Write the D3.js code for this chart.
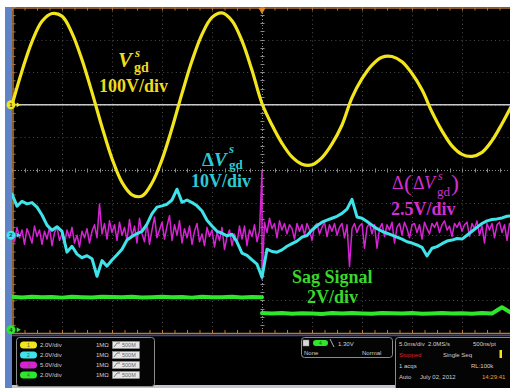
<!DOCTYPE html>
<html>
<head>
<meta charset="utf-8">
<script src="https://cdn.jsdelivr.net/npm/d3@7"></script>
<style>
  html, body { margin: 0; padding: 0; background: #fff; overflow: hidden; }
</style>
</head>
<body>
<svg id="scope" width="510" height="388"></svg>
<script>
// ---- acquisition data (time in ms, 5 ms/div, trigger at t = 0) ----

// Channel 1: grid-side voltage V^s_gd, volts, sampled every 1 ms from -25 ms
const ch1Start = -25, ch1Step = 1;
const ch1Volts = [
  0, 104, 194, 256, 280, 272, 220, 138, 38, -68,
  -165, -238, -276, -280, -240, -168, -72, 35, 135, 216,
  268, 282, 258, 196, 106, 4,
  -62, -118, -160, -182, -184, -162, -120, -62, 22, 80,
  122, 146, 148, 132, 96, 46, -22, -80, -126, -152,
  -158, -146, -110, -58, 0
];

// Channel 2: ΔV^s_gd, volts, sampled every 0.5 ms from -25 ms
const ch2Start = -25, ch2Step = 0.5;
const ch2Volts = [
  12.6, 8.9, 10.4, 9.6, 10.0, 8.6, 6.2, 3.1, 1.5, 2.6,
  1.2, -5.2, -3.4, -5.8, -6.9, -6.3, -7.2, -12.6, -7.8, -9.5,
  -7.6, -6.0, -4.3, -1.5, -0.4, 0.5, 1.2, 3.4, 6.6, 8.6,
  9.0, 9.5, 10.8, 14.1, 10.1, 10.8, 10.0, 9.0, 7.4, 4.6,
  2.8, 1.2, 0.6, -0.2, 0.3, -2.1, -5.5, -6.2, -7.6, -8.9,
  -12.9, -4.3, -5.0, -5.2, -4.5, -3.4, -2.6, -1.8, -0.6, -0.1,
  1.6, 2.9, 4.0, 4.6, 5.2, 5.8, 6.7, 8.0, 11.0, 5.6,
  5.2, 4.2, 3.1, 2.0, 1.2, 0.6, 0.0, -0.6, -1.2, -2.0,
  -2.4, -3.0, -3.7, -6.4, -4.0, -3.5, -2.6, -1.8, -1.5, -1.0,
  -1.2, 0.0, 1.2, 2.4, 3.6, 4.4, 4.8, 5.0, 5.3, 5.8,
  6.0
];

// Channel 3: Δ(ΔV^s_gd), volts, every 0.25 ms; before the sag, the step at t = 0, after the sag
const ch3Step = 0.25;
const ch3Before = [
  0.1, -0.5, 0.6, -0.2, 0.4, -0.7, 0.5, 0.0, -0.6, 0.7,
  -0.1, 0.4, -0.7, 0.3, -0.3, 0.6, -0.8, 0.2, 0.6, -0.4,
  0.1, -0.7, 0.4, -0.2, 0.6, -0.6, 0.0, -0.9, 0.3, -0.2,
  0.5, -0.6, 0.3, 0.8, -0.2, 2.4, 0.1, 0.9, -0.3, 1.1,
  0.2, 0.8, -0.4, 1.0, 0.0, 0.6, -0.4, 1.2, -0.1, 0.7,
  -0.6, 1.3, 0.1, -0.5, 0.9, -0.7, 0.4, 1.4, -0.2, 0.4,
  1.0, -0.3, 0.7, 1.5, -0.4, 0.8, 0.0, 1.1, -0.6, 0.5,
  -0.2, 0.7, -0.7, 0.3, 0.9, -0.5, 0.1, -0.8, 0.6, -0.1,
  0.4, -0.9, 0.2, -0.4, 0.6, -1.1, -0.1, 0.4, -0.8, 0.1,
  -0.6, 0.7, -0.3, 0.7, -0.8, 0.4, -0.1, 0.8, -0.5, 0.3
];
const ch3Step0 = [4.9, -3.4];
const ch3After = [
  1.0, 0.2, 1.3, 0.5, 0.9, -0.2, 1.1, 0.4, 0.9, 0.1,
  0.8, 0.5, -0.3, 0.9, 0.3, 0.8, 0.0, 0.9, 0.4, -0.4,
  0.7, 0.9, 0.1, 0.6, 1.0, -0.1, 0.8, 0.3, 0.9, 0.0,
  0.6, 0.9, -0.2, 0.8, -2.4, 0.5, 0.9, 0.2, 0.7, 0.9,
  -1.0, 0.6, 0.9, 0.1, 0.8, -1.0, 0.5, 0.9, -0.1, 0.8,
  0.4, 1.0, -0.6, 0.6, 0.9, 0.0, 1.0, 0.5, -0.2, 0.8,
  0.9, 0.2, 0.8, -0.3, 1.0, 0.5, 0.1, 0.9, 0.6, 1.0,
  0.2, 0.8, 1.1, 0.4, 0.7, -0.1, 0.9, 0.6, 1.0, 0.3,
  0.8, 1.0, -0.1, 0.9, 0.5, 1.1, 0.0, 0.7, -0.6, 0.9,
  0.4, 0.9, -0.2, 0.8, 1.0, 0.2, 0.8, -0.4, 0.9, 0.5
];

// Channel 4: sag command signal, volts, every 1 ms; before and after the sag
const ch4Step = 1;
const ch4Before = [
  2.02, 1.98, 2.03, 1.99, 2.01, 1.97, 2.02, 2.00, 1.98, 2.03,
  2.01, 1.99, 2.02, 1.98, 2.00, 2.03, 1.99, 2.01, 1.97, 2.02,
  2.00, 1.99, 2.03, 1.98, 2.01, 2.00
];
const ch4After = [
  1.02, 0.99, 1.03, 0.98, 1.01, 1.00, 0.97, 1.02, 0.99, 1.03,
  1.00, 0.98, 1.02, 1.01, 0.99, 1.03, 0.98, 1.00, 1.02, 0.99,
  1.01, 0.98, 1.02, 1.00, 1.38, 1.01
];

// Vertical settings: volts per division and offset (in divisions from screen centre)
const chScale  = { 1: 100, 2: 10, 3: 2.5, 4: 2 };
const chOffset = { 1: 2, 2: -2, 3: -2, 4: -4.9 };

// Trace annotations
const labelV1 = "100V/div", labelV2 = "10V/div", labelV3 = "2.5V/div";
const labelSag = "Sag Signal", labelV4 = "2V/div";

// Status panel text
const chanRows = [
  { ch: "1", scale: "2.0V/div", imp: "1MΩ", bw: "500M" },
  { ch: "2", scale: "2.0V/div", imp: "1MΩ", bw: "500M" },
  { ch: "3", scale: "5.0V/div", imp: "1MΩ", bw: "500M" },
  { ch: "4", scale: "2.0V/div", imp: "1MΩ", bw: "500M" }
];
const trigText = { src: "4", level: "1.30V", mode1: "None", mode2: "Normal" };
const acqText = {
  tdiv: "5.0ms/div", rate: "2.0MS/s", pt: "500ns/pt",
  state: "Stopped", seq: "Single Seq", acqs: "1 acqs", rl: "RL:100k",
  auto: "Auto", date: "July 02, 2012", time: "14:29:41"
};

// ---- drawing ----
const colors = { 1: "#f2e51c", 2: "#3fe3ea", 3: "#d624d4", 4: "#2ee62a" };
const labelColors = { 1: "#eedb1e", 2: "#2ecad4", 3: "#d12fd0", 4: "#3ad82c" };

const svg = d3.select("#scope");
const W = 510, H = 388;
const P = { left: 12, right: 512, top: 7, bottom: 333 };

const x = d3.scaleLinear().domain([-25, 25]).range([P.left, P.right]);
const yDiv = d3.scaleLinear().domain([-5, 5]).range([P.bottom, P.top]);
const yCh = ch => v => yDiv(v / chScale[ch] + chOffset[ch]);

// frame
svg.append("rect").attr("width", W).attr("height", H).attr("fill", "#fff");
svg.append("rect").attr("x", 5).attr("y", 7).attr("width", 7).attr("height", H - 7).attr("fill", "#5e83c6");
svg.append("rect").attr("x", 12).attr("y", 7).attr("width", W - 12).attr("height", 378).attr("fill", "#000");
svg.append("rect").attr("x", 12).attr("y", 385).attr("width", W - 12).attr("height", 3).attr("fill", "#c3c6cc");

const defs = svg.append("defs");
defs.append("clipPath").attr("id", "plotClip")
  .append("rect").attr("x", P.left).attr("y", P.top).attr("width", W - P.left).attr("height", P.bottom - P.top);

// faint graticule
const grid = svg.append("g").attr("stroke", "#4a4a4a").attr("stroke-width", 1).attr("stroke-dasharray", "1,3.2");
grid.selectAll("line.v").data(d3.range(-20, 21, 5).filter(d => d !== 0)).join("line")
  .attr("x1", d => x(d) + 0.5).attr("x2", d => x(d) + 0.5).attr("y1", P.top).attr("y2", P.bottom);
grid.selectAll("line.h").data(d3.range(-4, 5, 1).filter(d => d !== 0)).join("line")
  .attr("y1", d => Math.round(yDiv(d)) + 0.5).attr("y2", d => Math.round(yDiv(d)) + 0.5).attr("x1", P.left).attr("x2", W);

// centre axes (dotted, with minor ticks)
const minorT = d3.range(-25, 25.01, 1.25);
const minorD = d3.range(-5, 5.01, 0.25);
const cy = Math.round(yDiv(0)) + 0.5, cx = Math.round(x(0)) + 0.5;
const centre = svg.append("g").attr("stroke", "#8a8a8a").attr("stroke-width", 1);
centre.append("line").attr("x1", P.left).attr("x2", W).attr("y1", cy).attr("y2", cy).attr("stroke-dasharray", "1,2");
centre.append("line").attr("x1", cx).attr("x2", cx).attr("y1", P.top).attr("y2", P.bottom).attr("stroke-dasharray", "1,2");
centre.selectAll("line.tx").data(minorT).join("line")
  .attr("x1", d => Math.round(x(d)) + 0.5).attr("x2", d => Math.round(x(d)) + 0.5).attr("y1", cy - 2).attr("y2", cy + 2);
centre.selectAll("line.ty").data(minorD).join("line")
  .attr("y1", d => Math.round(yDiv(d)) + 0.5).attr("y2", d => Math.round(yDiv(d)) + 0.5).attr("x1", cx - 2).attr("x2", cx + 2);

// channel 1 reference line
svg.append("line").attr("x1", P.left).attr("x2", W)
  .attr("y1", yCh(1)(0)).attr("y2", yCh(1)(0))
  .attr("stroke", "#c9c9c9").attr("stroke-width", 1.6);

// edge axes with tick marks
const axisColor = "#b9793a";
function styleAxis(g) {
  g.selectAll("path.domain").attr("stroke", axisColor).attr("stroke-width", 1.5);
  g.selectAll(".tick line").attr("stroke", axisColor);
  g.selectAll(".tick text").remove();
}
svg.append("g").attr("transform", `translate(0,${P.top + 0.5})`)
  .call(d3.axisBottom(x).tickValues(minorT).tickSize(3).tickSizeOuter(0).tickFormat("")).call(styleAxis);
svg.append("g").attr("transform", `translate(0,${P.bottom})`)
  .call(d3.axisTop(x).tickValues(minorT).tickSize(3).tickSizeOuter(0).tickFormat("")).call(styleAxis);
svg.append("g").attr("transform", `translate(${P.left + 0.5},0)`)
  .call(d3.axisRight(yDiv).tickValues(minorD).tickSize(3).tickSizeOuter(0).tickFormat("")).call(styleAxis);
svg.append("line").attr("x1", P.left).attr("x2", W).attr("y1", P.bottom + 2.5).attr("y2", P.bottom + 2.5)
  .attr("stroke", "#34489c").attr("stroke-width", 1.5);

// trigger position marker
svg.append("path").attr("d", d3.symbol(d3.symbolTriangle, 22)())
  .attr("transform", `translate(${x(0)},${P.top + 3}) rotate(180)`).attr("fill", "#e08a2a");

// ---- traces ----
const traces = svg.append("g").attr("clip-path", "url(#plotClip)");
const pts = (vals, t0, step) => vals.map((v, i) => [t0 + i * step, v]);

function drawTrace(ch, data, width, curve) {
  const yy = yCh(ch);
  const line = d3.line().x(d => x(d[0])).y(d => yy(d[1])).curve(curve || d3.curveLinear);
  traces.append("path").datum(data).attr("d", line)
    .attr("fill", "none").attr("stroke", colors[ch]).attr("stroke-width", width)
    .attr("stroke-linejoin", "round").attr("stroke-linecap", "round");
}

// sag signal
drawTrace(4, pts(ch4Before, -25, ch4Step), 4);
drawTrace(4, pts(ch4After, 0, ch4Step), 4);

// Δ(ΔV)
const ch3Data = pts(ch3Before, -25, ch3Step)
  .concat(ch3Step0.map(v => [0, v]))
  .concat(pts(ch3After, ch3Step, ch3Step));
drawTrace(3, ch3Data, 1.5);

// ΔV
drawTrace(2, pts(ch2Volts, ch2Start, ch2Step), 3);

// V^s_gd
drawTrace(1, pts(ch1Volts, ch1Start, ch1Step), 3.2, d3.curveCatmullRom);

// channel ground markers
const markers = svg.append("g");
[[1, yCh(1)(0)], [2, yCh(2)(0)], [4, yCh(4)(0)]].forEach(([ch, yy]) => {
  markers.append("path").attr("d", d3.symbol(d3.symbolTriangle, 10)())
    .attr("transform", `translate(${P.left + 6},${yy}) rotate(90)`).attr("fill", colors[ch]);
  markers.append("circle").attr("cx", P.left - 1).attr("cy", yy).attr("r", 4.5).attr("fill", colors[ch]);
  markers.append("text").attr("x", P.left - 1).attr("y", yy + 2).attr("text-anchor", "middle")
    .attr("font-family", "Liberation Sans, Arial, sans-serif").attr("font-size", 6).attr("font-weight", "bold")
    .attr("fill", "#333").text(ch);
});

// ---- trace annotations ----
const serif = "Liberation Serif, Times New Roman, serif";
const ann = svg.append("g").attr("font-family", serif).attr("font-weight", "bold");
function txt(xp, yp, s, color, size, opts) {
  const t = ann.append("text").attr("x", xp).attr("y", yp).attr("fill", color).attr("font-size", size).text(s);
  if (opts && opts.italic) t.attr("font-style", "italic");
  if (opts && opts.normal) t.attr("font-weight", "normal");
  return t;
}
// V^s_gd
txt(118, 67, "V", labelColors[1], 21, { italic: true });
txt(135, 57, "s", labelColors[1], 13, { italic: true });
txt(134, 72, "gd", labelColors[1], 14);
txt(99, 92, labelV1, labelColors[1], 18);
// ΔV^s_gd
const dv = txt(202, 166, "", labelColors[2], 19);
dv.append("tspan").text("Δ");
dv.append("tspan").attr("font-style", "italic").text("V");
txt(229, 153, "s", labelColors[2], 13, { italic: true });
txt(229, 169, "gd", labelColors[2], 13);
txt(191, 187, labelV2, labelColors[2], 18);
// Δ(ΔV^s_gd)
const m = labelColors[3];
txt(392, 189, "Δ", m, 18, { normal: true });
txt(404, 191, "(", m, 24, { normal: true });
txt(413, 189, "Δ", m, 18, { normal: true });
txt(424, 189, "V", m, 18, { normal: true, italic: true });
txt(438, 180, "s", m, 12, { normal: true, italic: true });
txt(437, 196, "gd", m, 13, { normal: true });
txt(451, 191, ")", m, 24, { normal: true });
txt(391, 215, labelV3, m, 18);
// sag signal
txt(292, 283, labelSag, labelColors[4], 18);
txt(307, 303, labelV4, labelColors[4], 18);

// ---- status panels ----
const sans = "Liberation Sans, Arial, sans-serif";
const panel = svg.append("g").attr("font-family", sans);
const panelText = (xp, yp, s, color, size) =>
  panel.append("text").attr("x", xp).attr("y", yp).attr("fill", color || "#cfcfcf")
    .attr("font-size", size || 6).text(s);

// channel settings box
panel.append("rect").attr("x", 16.5).attr("y", 337.5).attr("width", 138).attr("height", 49).attr("rx", 3)
  .attr("fill", "#040404").attr("stroke", "#8c8c8c");
chanRows.forEach((r, i) => {
  const ry = 345 + i * 10;
  panel.append("rect").attr("x", 20).attr("y", ry - 3.5).attr("width", 17).attr("height", 7).attr("rx", 3.5)
    .attr("fill", colors[+r.ch]);
  panel.append("text").attr("x", 28.5).attr("y", ry + 2).attr("text-anchor", "middle").attr("font-size", 5)
    .attr("fill", "#555").text(r.ch);
  panelText(40, ry + 2, r.scale);
  panelText(96, ry + 2, r.imp);
  panel.append("rect").attr("x", 112.5).attr("y", ry - 3.5).attr("width", 27).attr("height", 7)
    .attr("fill", "#e6e6e6").attr("stroke", "#999").attr("stroke-width", 0.5);
  panel.append("path").attr("d", `M114,${ry + 2} l3,-4 l3,0`).attr("stroke", "#555").attr("fill", "none").attr("stroke-width", 0.7);
  panelText(122, ry + 2, r.bw, "#666", 5.5);
});

// trigger box
panel.append("rect").attr("x", 301.5).attr("y", 337.5).attr("width", 91).attr("height", 20).attr("rx", 3)
  .attr("fill", "#040404").attr("stroke", "#8c8c8c");
panel.append("rect").attr("x", 303).attr("y", 340).attr("width", 6).attr("height", 6)
  .attr("fill", "#d8d8d8").attr("stroke", "#888").attr("stroke-width", 0.5);
panel.append("rect").attr("x", 313).attr("y", 340).attr("width", 15).attr("height", 6).attr("rx", 3)
  .attr("fill", colors[4]);
panel.append("text").attr("x", 320.5).attr("y", 345).attr("text-anchor", "middle").attr("font-size", 4.5)
  .attr("fill", "#333").text(trigText.src);
panel.append("path").attr("d", "M330,339 L334,347").attr("stroke", "#ddd").attr("stroke-width", 0.8);
panelText(338, 345.5, trigText.level);
panelText(304, 355, trigText.mode1);
panelText(362, 355, trigText.mode2);

// acquisition box
panel.append("rect").attr("x", 395.5).attr("y", 337.5).attr("width", 125).attr("height", 56).attr("rx", 3)
  .attr("fill", "#040404").attr("stroke", "#8c8c8c");
panelText(399, 346, acqText.tdiv);
panelText(428, 346, acqText.rate);
panelText(473, 346, acqText.pt);
panelText(399, 357, acqText.state, "#e02020");
panelText(443, 357, acqText.seq);
panel.append("rect").attr("x", 499.5).attr("y", 350).attr("width", 2.5).attr("height", 8).attr("fill", colors[1]);
panelText(399, 368, acqText.acqs);
panelText(471, 368, acqText.rl);
panelText(399, 379, acqText.auto);
panelText(420, 379, acqText.date);
panelText(482, 379, acqText.time, "#e3a12a");
</script>
</body>
</html>
